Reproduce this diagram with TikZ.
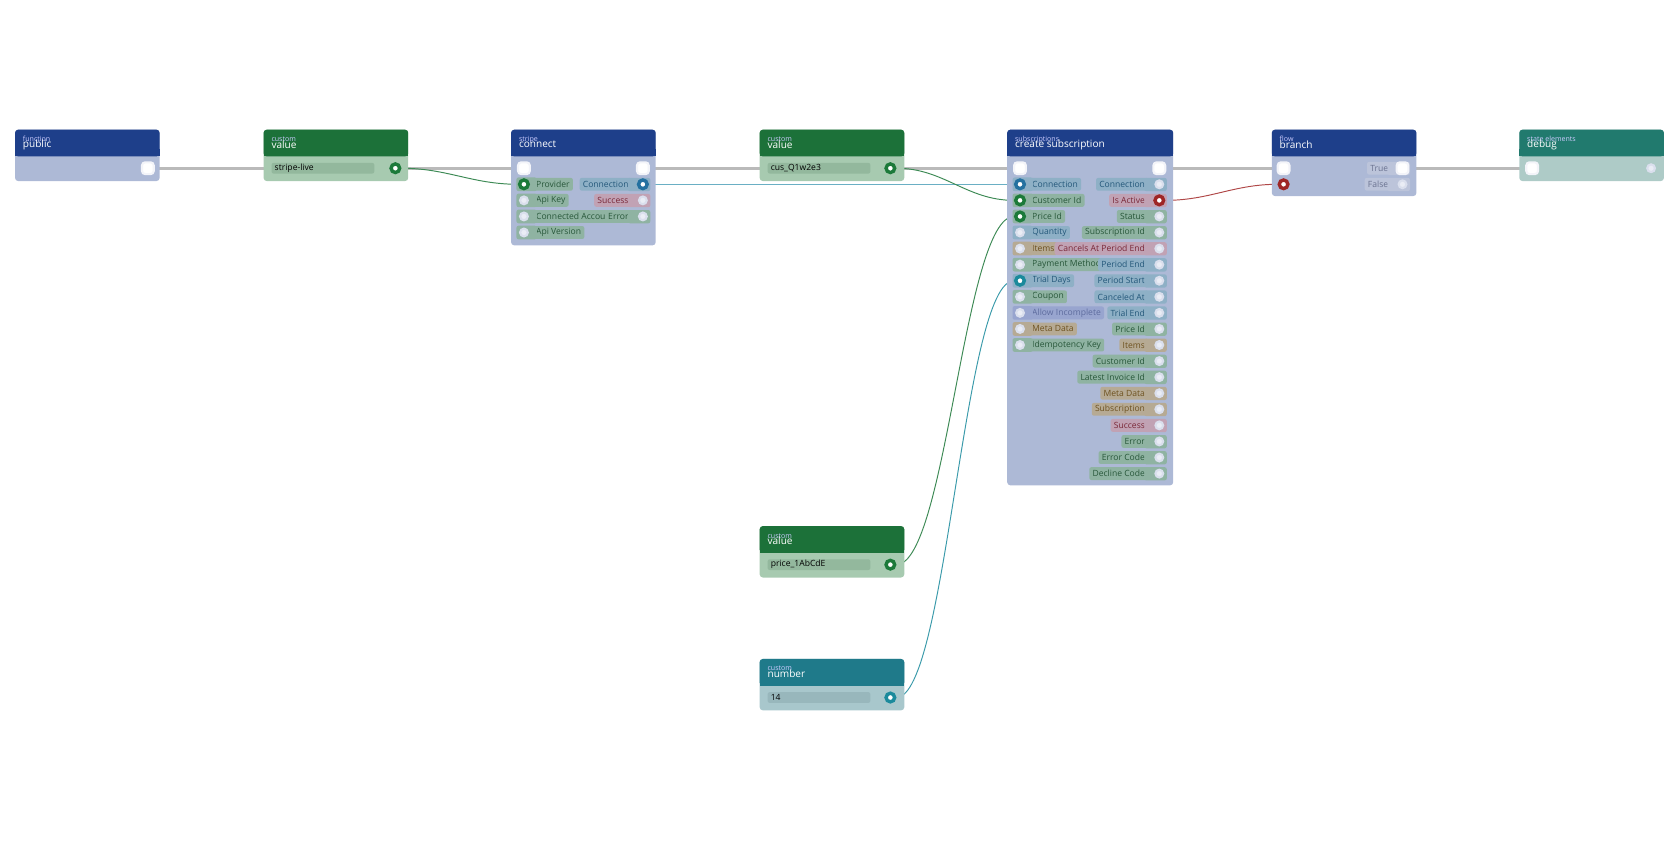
\documentclass[tikz,border=0pt]{standalone}
\usepackage{fontspec}
\setmainfont{Open Sans}
\usetikzlibrary{backgrounds,calc}

\definecolor{hdrblue}{HTML}{1E3F8A}
\definecolor{bodyblue}{HTML}{ADB9D6}
\definecolor{hdrgreen}{HTML}{1C7139}
\definecolor{bodygreen}{HTML}{A7CAB0}
\definecolor{fldgreen}{HTML}{93B89D}
\definecolor{hdrteal}{HTML}{1F7A8A}
\definecolor{bodyteal}{HTML}{A8C7CC}
\definecolor{fldteal}{HTML}{98B7BC}
\definecolor{hdrdebug}{HTML}{217A6E}
\definecolor{bodydebug}{HTML}{AECBC7}
\definecolor{chipg}{HTML}{8FB3A2}\definecolor{txtg}{HTML}{28573A}
\definecolor{chipb}{HTML}{8EB0C6}\definecolor{txtb}{HTML}{24587A}
\definecolor{chipp}{HTML}{C1A2B4}\definecolor{txtp}{HTML}{7A2838}
\definecolor{chipt}{HTML}{B6AA94}\definecolor{txtt}{HTML}{6E5220}
\definecolor{chipv}{HTML}{98A5CF}\definecolor{txtv}{HTML}{5E6C9E}
\definecolor{chipn}{HTML}{BCC4DA}\definecolor{txtn}{HTML}{6A7290}
\definecolor{portg}{HTML}{1C7A3A}
\definecolor{portb}{HTML}{2471A0}
\definecolor{portt}{HTML}{1B8A9C}
\definecolor{portr}{HTML}{9E2626}
\definecolor{wireg}{HTML}{3D8A55}
\definecolor{wireb}{HTML}{6AAFC4}
\definecolor{wiret}{HTML}{3A9AAA}
\definecolor{wirer}{HTML}{B04848}

% cards
\newcommand\card[9]{%
  \fill[#6, rounded corners=1.5pt] (#2,#3) rectangle (#2+#9,#4);
  \fill[#5, rounded corners=1.5pt] (#2,#3) rectangle (#2+#9,#3+25);
  \fill[#5] (#2,#3+18) rectangle (#2+#9,#3+25);
  \node[cat] at (#2+7,#3+9) {#7};
  \node[ttl] at (#2+7,#3+14) {#8};
  \coordinate (#1) at (#2,#3);}
% rows
\newcommand\inrow[6]{%
  \node[chip=#5, anchor=west] (#1-l) at (#2+8,#3) {#4};
  \fill[chip#5, rounded corners=1pt] ($(#1-l.south west)+(-15,0)$) rectangle ($(#1-l.north west)+(4,0)$);
  \node[#6] (#1) at (#2,#3) {};}
\newcommand\outrow[6]{%
  \node[chip=#5, anchor=east] (#1-l) at (#2-10,#3) {#4};
  \fill[chip#5, rounded corners=1pt] ($(#1-l.south east)+(-4,0)$) rectangle (#2+7,#3-6);
  \node[#6] (#1) at (#2,#3) {};}
\newcommand\valfield[5]{%
  \node[field=#5, anchor=west] (#1-f) at (#2,#3) {#4};}

\begin{document}
\begin{tikzpicture}[x=0.5pt, y=-0.5pt,
  cat/.style={anchor=west, inner sep=0, text=white!80!blue, font=\fontsize{3.3}{3.3}\selectfont},
  ttl/.style={anchor=west, inner sep=0, text=white, font=\fontsize{4.7}{5}\selectfont},
  chip/.style={fill=chip#1, text=txt#1, rounded corners=1pt, inner xsep=1.5pt, inner ysep=0,
    minimum height=6pt, font=\fontsize{4}{4}\selectfont},
  field/.style={fill=fld#1, rounded corners=1pt, inner xsep=1.5pt, inner ysep=0, minimum height=5pt,
    minimum width=48pt, text width=45pt, align=left, font=\fontsize{4}{4}\selectfont},
  port/.style={circle, inner sep=0, minimum size=4pt, line width=1.6pt, fill=white},
  pg/.style={port, draw=portg}, pb/.style={port, draw=portb},
  pt/.style={port, draw=portt}, pr/.style={port, draw=portr},
  po/.style={circle, inner sep=0, minimum size=3.6pt, line width=1pt, draw=white!55!bodyblue, fill=white!75!bodyblue},
  ex/.style={rectangle, rounded corners=1.5pt, inner sep=0, minimum size=5.5pt, line width=1pt,
    draw=white!85!bodyblue, fill=white},
  exec/.style={line width=1.5pt, draw=black!27},
  wire/.style={line width=0.45pt}]
\useasboundingbox (0,0) rectangle (1568,784);

% CARDS
\card{pub}{14}{121}{169}{hdrblue}{bodyblue}{function}{public}{135}
\node[ex] (pub-o) at (138,157) {};

\card{v1}{246}{121}{169}{hdrgreen}{bodygreen}{custom}{value}{135}
\valfield{v1}{253}{157}{stripe-live}{green}
\node[pg] (v1-o) at (369,157) {};

\card{cn}{477}{121}{229}{hdrblue}{bodyblue}{stripe}{connect}{135}
\node[ex] (cn-x) at (489,157) {};
\node[ex] (cn-xo) at (600,157) {};
\foreach \lab/\k/\p [count=\i] in {Provider/g/pg, Api Key/g/po, Connected Account/g/po, Api Version/g/po}
  \inrow{cn-i\i}{489}{157+15*\i}{\lab}{\k}{\p};
\foreach \lab/\k/\p [count=\i] in {Connection/b/pb, Success/p/po, Error/g/po}
  \outrow{cn-o\i}{600}{157+15*\i}{\lab}{\k}{\p};

\card{v2}{709}{121}{169}{hdrgreen}{bodygreen}{custom}{value}{135}
\valfield{v2}{716}{157}{cus\_Q1w2e3}{green}
\node[pg] (v2-o) at (831,157) {};

\card{cs}{940}{121}{453}{hdrblue}{bodyblue}{subscriptions}{create subscription}{155}
\node[ex] (cs-x) at (952,157) {};
\node[ex] (cs-xo) at (1082,157) {};
\foreach \lab/\k/\p [count=\i] in {Connection/b/pb, Customer Id/g/pg, Price Id/g/pg, Quantity/b/po,
  Items/t/po, Payment Method Id/g/po, Trial Days/b/pt, Coupon/g/po, Allow Incomplete/v/po,
  Meta Data/t/po, Idempotency Key/g/po}
  \inrow{cs-i\i}{952}{157+15*\i}{\lab}{\k}{\p};
\foreach \lab/\k/\p [count=\i] in {Connection/b/po, Is Active/p/pr, Status/g/po, Subscription Id/g/po,
  Cancels At Period End/p/po, Period End/b/po, Period Start/b/po, Canceled At/b/po, Trial End/b/po,
  Price Id/g/po, Items/t/po, Customer Id/g/po, Latest Invoice Id/g/po, Meta Data/t/po,
  Subscription/t/po, Success/p/po, Error/g/po, Error Code/g/po, Decline Code/g/po}
  \outrow{cs-o\i}{1082}{157+15*\i}{\lab}{\k}{\p};

\card{br}{1187}{121}{183}{hdrblue}{bodyblue}{flow}{branch}{135}
\node[ex] (br-x) at (1198,157) {};
\node[pr] (br-i1) at (1198,172) {};
\outrow{br-o1}{1309}{157}{True}{n}{ex}
\outrow{br-o2}{1309}{172}{False}{n}{po}

\card{dbg}{1418}{121}{169}{hdrdebug}{bodydebug}{state elements}{debug}{135}
\node[ex] (dbg-x) at (1430,157) {};
\node[po] (dbg-o) at (1541,157) {};

\card{v3}{709}{491}{539}{hdrgreen}{bodygreen}{custom}{value}{135}
\valfield{v3}{716}{527}{price\_1AbCdE}{green}
\node[pg] (v3-o) at (831,527) {};

\card{num}{709}{615}{663}{hdrteal}{bodyteal}{custom}{number}{135}
\valfield{num}{716}{651}{14}{teal}
\node[pt] (num-o) at (831,651) {};

% WIRES
\begin{scope}[on background layer]
\draw[exec] (pub-o) -- (cn-x);
\draw[exec] (cn-xo) -- (cs-x);
\draw[exec] (cs-xo) -- (br-x);
\draw[exec] (br-o1) -- (dbg-x);
\draw[wire, wireg] (v1-o) to[out=0, in=180] (cn-i1);
\draw[wire, wireb] (cn-o1) to[out=0, in=180] (cs-i1);
\draw[wire, wireg] (v2-o) to[out=0, in=180] (cs-i2);
\draw[wire, wireg] (v3-o) to[out=0, in=180, looseness=0.35] (cs-i3);
\draw[wire, wiret] (num-o) to[out=0, in=180, looseness=0.3] (cs-i7);
\draw[wire, wirer] (cs-o2) to[out=0, in=180] (br-i1);
\end{scope}
\end{tikzpicture}
\end{document}
